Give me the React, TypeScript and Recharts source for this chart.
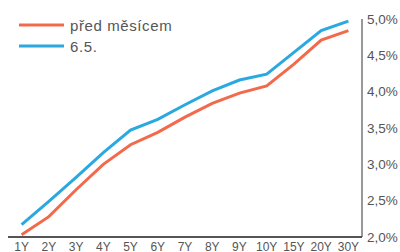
import React from "react";
import { LineChart, Line, XAxis, YAxis, Legend } from "recharts";

const categories = ["1Y", "2Y", "3Y", "4Y", "5Y", "6Y", "7Y", "8Y", "9Y", "10Y", "15Y", "20Y", "30Y"];
const predMesicem = [2.03, 2.28, 2.65, 3.0, 3.27, 3.44, 3.65, 3.84, 3.98, 4.08, 4.38, 4.71, 4.84];
const current = [2.17, 2.49, 2.82, 3.16, 3.47, 3.62, 3.82, 4.01, 4.16, 4.24, 4.54, 4.84, 4.97];
const yTicks = [2, 2.5, 3, 3.5, 4, 4.5, 5];
const seriesNames = ["před měsícem", "6.5."];
const colors = ["#F26A4B", "#2AA8E0"];

const data = categories.map((c, i) => ({ cat: c, a: predMesicem[i], b: current[i] }));

const fmt = (v: number) => v.toFixed(1).replace(".", ",") + "%";

const LegendContent = () => (
  <div style={{ fontFamily: "'Liberation Sans', Arial, sans-serif" }}>
    {seriesNames.map((n, i) => (
      <div key={n} style={{ display: "flex", alignItems: "center", height: 21 }}>
        <svg width={45} height={4} style={{ display: "block", marginRight: 6 }}>
          <line x1={0} y1={2} x2={45} y2={2} stroke={colors[i]} strokeWidth={3} />
        </svg>
        <span style={{ fontSize: 15, letterSpacing: 0.6, color: "#555", lineHeight: "21px" }}>{n}</span>
      </div>
    ))}
  </div>
);

export default function App() {
  return (
    <div style={{ position: "absolute", left: 0, top: 0, fontFamily: "'Liberation Sans', Arial, sans-serif" }}>
      <LineChart width={400} height={252} data={data} margin={{ top: 19, right: 0, bottom: 0, left: 8 }}>
        <XAxis
          dataKey="cat"
          interval={0}
          padding={{ left: 13.6, right: 13.6 }}
          tickLine={false}
          tickSize={0}
          tickMargin={5}
          height={15}
          axisLine={{ stroke: "#555", strokeWidth: 2 }}
          tick={{ fill: "#555", fontSize: 12 }}
        />
        <YAxis
          orientation="right"
          width={38}
          domain={[2, 5]}
          ticks={yTicks}
          tickFormatter={fmt}
          tickLine={false}
          tickSize={0}
          tickMargin={5}
          axisLine={{ stroke: "#333", strokeWidth: 1 }}
          tick={{ fill: "#555", fontSize: 13.5, textAnchor: "start" }}
        />
        <Legend
          layout="vertical"
          align="center"
          verticalAlign="middle"
          wrapperStyle={{ position: "absolute", left: 19, top: 14.5, width: "auto" }}
          content={<LegendContent />}
        />
        <Line dataKey="a" name={seriesNames[0]} stroke={colors[0]} strokeWidth={3} dot={false} isAnimationActive={false} />
        <Line dataKey="b" name={seriesNames[1]} stroke={colors[1]} strokeWidth={3} dot={false} isAnimationActive={false} />
      </LineChart>
    </div>
  );
}
